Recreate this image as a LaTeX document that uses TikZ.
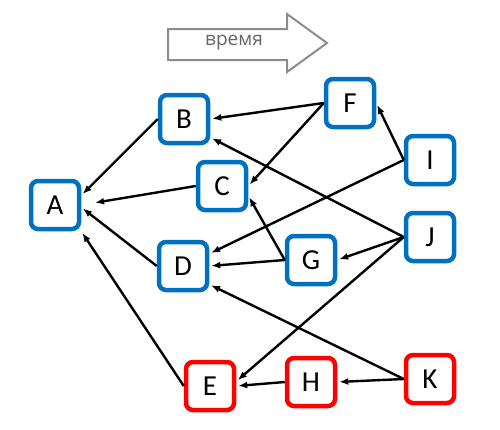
\documentclass[tikz,border=0pt]{standalone}
\usepackage{fontspec}
\setmainfont{Carlito}
\newfontfamily\timefont{Open Sans}
\usetikzlibrary{arrows.meta,positioning}

\definecolor{boxblue}{RGB}{0,112,192}
\definecolor{boxred}{RGB}{255,0,0}
\definecolor{timegray}{RGB}{140,140,140}

\begin{document}
\begin{tikzpicture}[x=1pt,y=-1pt,shorten >=2pt,node font=\fontsize{29}{31}\selectfont,
	>={Latex[length=9pt,width=7pt]}]
	\tikzstyle{every node}=[rectangle,rounded corners=7pt,line width=4.5pt,minimum size=48pt,inner sep=0pt,fill=white]
	\tikzstyle{past}=[draw=boxblue]
	\tikzstyle{future}=[draw=boxred]
	\tikzstyle{every edge}=[draw,line width=2.4pt,black]
	\useasboundingbox (0,0) rectangle (500,429);

	% time arrow
	\draw[timegray,line width=2pt,fill=white] (168,29) -- (287,29) -- (287,14) -- (327,43)
		-- (287,72) -- (287,60) -- (168,60) -- cycle;
	\node[fill=none,minimum size=0pt,text=black!60,font=\timefont\fontsize{19}{22}\selectfont] (TIME) at (234,43) {время};

	\node[past]   (A) at (55,205)  {A};
	\node[past]   (B) at (184,119) {B};
	\node[past]   (C) at (222,186) {C};
	\node[past]   (D) at (183,266) {D};
	\node[past]   (F) at (350,103) {F};
	\node[past]   (G) at (311,260) {G};
	\node[past]   (I) at (430,160) {I};
	\node[past]   (J) at (430,237) {J};
	\node[future] (E) at (210,386) {E};
	\node[future] (H) at (311,382) {H};
	\node[future] (K) at (430,379) {K};

	\path[->]
	(B.west) edge (A.20)
	(C.west) edge [shorten >=14pt] (A.east)
	(D.west) edge (A.-5)
	(E.west) edge (A.south east)
	(F.west) edge (B.east)
	(F.west) edge (C.east)
	(I.west) edge (F.east)
	(I.west) edge (D.25)
	(J.west) edge (B.-35)
	(J.west) edge (G.east)
	(J.west) edge (E.10)
	(G.west) edge (D.east)
	(G.west) edge (C.-20)
	(K.west) edge (D.-35)
	(K.west) edge (H.east)
	(H.west) edge (E.east);
\end{tikzpicture}
\end{document}
